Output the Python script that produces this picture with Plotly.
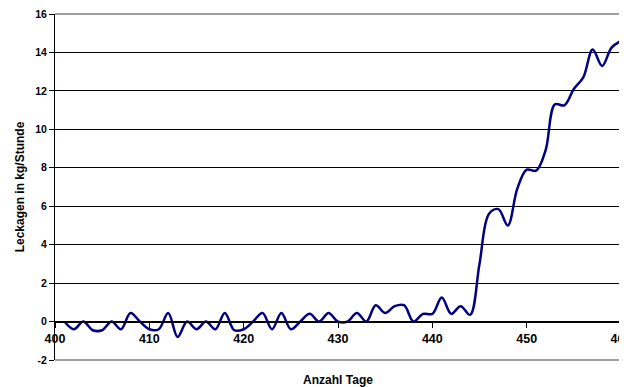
import plotly.graph_objects as go

days = list(range(401, 461))
leakage = [
    0, -0.4, 0, -0.45, -0.45, 0, -0.4, 0.45, 0, -0.4,
    -0.4, 0.45, -0.8, 0, -0.4, 0, -0.4, 0.45, -0.45, -0.4,
    0, 0.45, -0.4, 0.45, -0.4, 0, 0.4, 0, 0.45, 0,
    0, 0.45, 0, 0.85, 0.45, 0.8, 0.85, 0, 0.4, 0.4,
    1.25, 0.4, 0.8, 0.35, 3.0, 5.6, 5.85, 5.0, 6.9, 7.9,
    7.85, 8.9, 11.3, 11.25, 12.1, 12.7, 14.15, 13.3, 14.25, 14.6,
]
x_ticks = [400, 410, 420, 430, 440, 450, 460]
y_ticks = [-2, 0, 2, 4, 6, 8, 10, 12, 14, 16]
y_min, y_max = -2, 16

font_family = "Liberation Sans, Arial, sans-serif"

fig = go.Figure()
fig.add_trace(go.Scatter(
    x=days, y=leakage, mode="lines",
    line=dict(color="#000080", width=2.5, shape="spline", smoothing=1.0),
    showlegend=False,
))
# invisible trace on overlay axis for cross-style y ticks
fig.add_trace(go.Scatter(x=[days[0]], y=[leakage[0]], yaxis="y2", mode="lines",
                         line=dict(width=0), showlegend=False, hoverinfo="skip"))

zero_pos = (0 - y_min) / (y_max - y_min)

# page body adds an 8px offset; size the figure so it fits the 627x387 window
fig.update_layout(
    width=619, height=379,
    margin=dict(l=47, r=6, t=6, b=27),
    paper_bgcolor="white", plot_bgcolor="white",
    font=dict(family=font_family, color="black"),
    xaxis=dict(
        range=[400, 460], tickvals=x_ticks, ticktext=[str(t) for t in x_ticks],
        anchor="free", position=zero_pos,
        showline=True, linecolor="black", linewidth=1,
        ticks="outside", ticklen=5, tickcolor="black",
        showgrid=False, zeroline=False, ticklabeloverflow="allow",
        tickfont=dict(size=12.5, family=font_family, color="black", weight="bold"),
        title=dict(text="<b>Anzahl Tage</b>", font=dict(size=12, family=font_family),
                   standoff=32),
        automargin=False,
    ),
    yaxis=dict(
        range=[y_min, y_max], tickvals=y_ticks, ticktext=[str(t) for t in y_ticks],
        showline=True, linecolor="black", linewidth=1,
        ticks="outside", ticklen=5, tickcolor="black",
        showgrid=True, gridcolor="black", gridwidth=1,
        zeroline=False, ticklabeloverflow="allow",
        tickfont=dict(size=10.5, family=font_family, color="black", weight="bold"),
        title=dict(text="<b>Leckagen in kg/Stunde</b>", font=dict(size=12, family=font_family),
                   standoff=8),
        automargin=False,
    ),
    yaxis2=dict(
        overlaying="y", range=[y_min, y_max], tickvals=y_ticks,
        showticklabels=False, ticks="inside", ticklen=5, tickcolor="black",
        showgrid=False, zeroline=False, showline=False, automargin=False,
    ),
    shapes=[dict(
        type="path", xref="x domain", yref="y domain",
        path="M 0,1 L 1,1 L 1,0 L 0,0",
        line=dict(color="#808080", width=1.5), layer="above",
    )],
)

fig.write_html("out.html")
